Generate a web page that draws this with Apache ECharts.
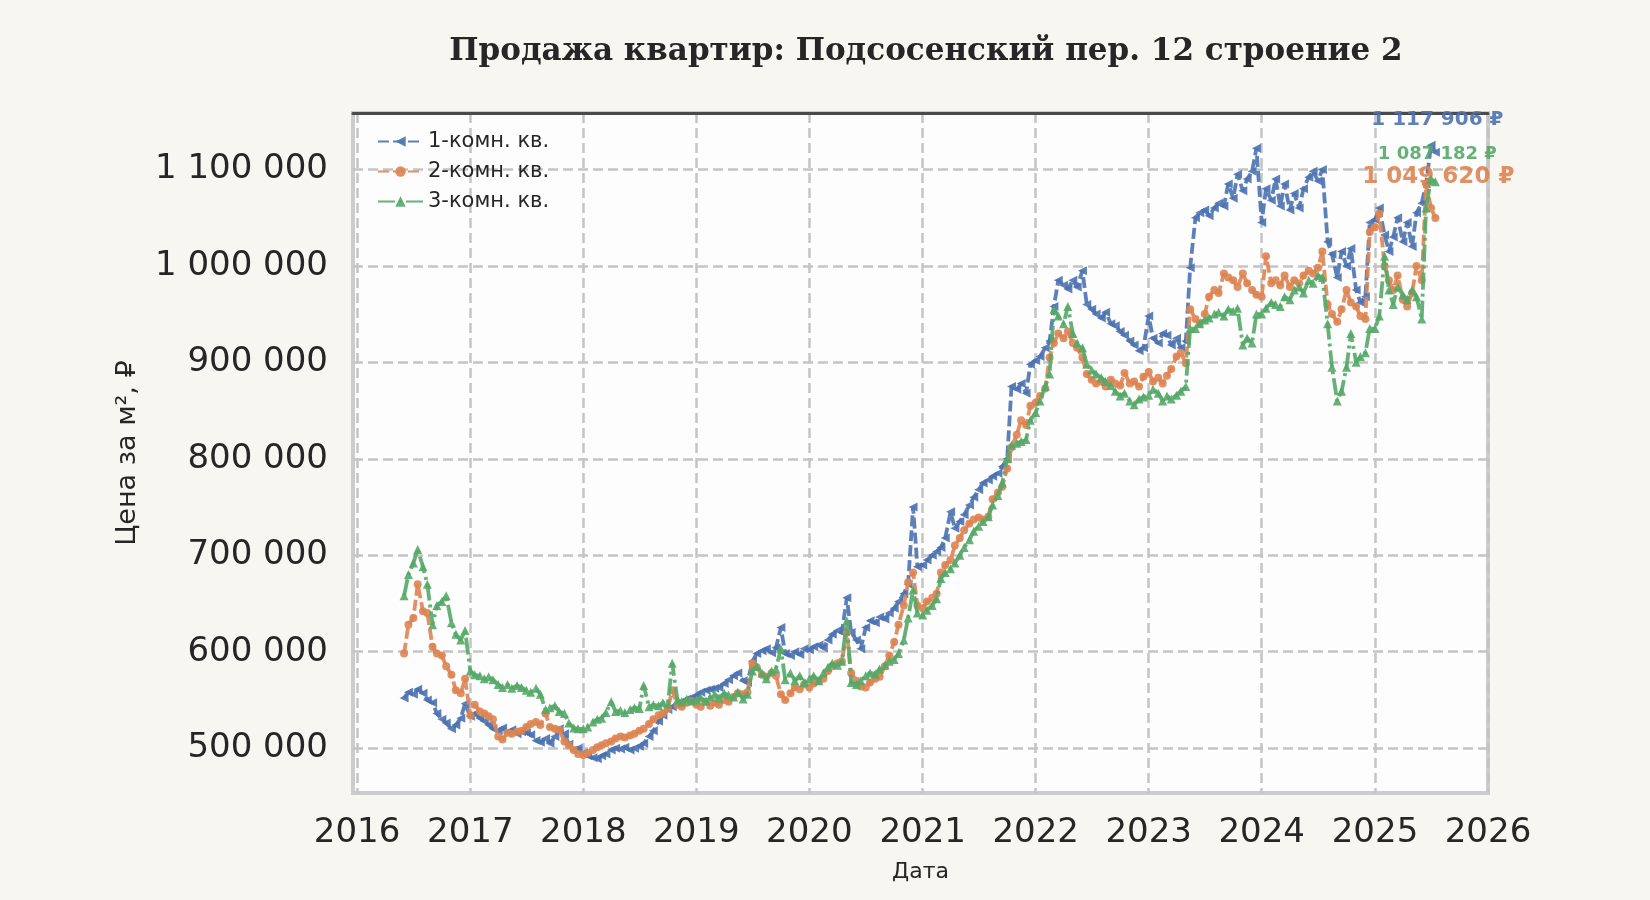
<!DOCTYPE html>
<html>
<head>
<meta charset="utf-8">
<script src="https://cdn.jsdelivr.net/npm/echarts@6/dist/echarts.min.js"></script>
<style>
html,body{margin:0;padding:0;background:#f7f6f1;}
#c{width:1650px;height:900px;}
</style>
</head>
<body>
<div id="c"></div>
<script>
// ---- DATA (price per m², thousands of ₽; semi-monthly from 2016-06-01 to 2025-07-15) ----
const seriesNames = ['1-комн. кв.', '2-комн. кв.', '3-комн. кв.'];
const yearTicks = [2016, 2017, 2018, 2019, 2020, 2021, 2022, 2023, 2024, 2025, 2026];
const priceTicks = [500000, 600000, 700000, 800000, 900000, 1000000, 1100000];

const oneRoomK = [
  // 2016 Jun-Dec
  552,558,556,561,557,550,547,536,530,526,520,524,531,546,
  // 2017
  533,536,531,528,524,520,518,521,516,519,515,517,516,514,508,506,510,505,512,520,515,504,498,500,
  // 2018
  495,492,490,489,492,494,498,500,499,501,498,500,502,505,512,518,528,534,540,543,546,548,551,552,
  // 2019
  555,558,560,561,562,563,567,571,575,578,570,568,590,598,601,603,599,604,625,598,596,600,597,603,
  // 2020
  602,605,607,604,612,618,622,620,656,620,612,603,625,632,630,636,634,640,645,652,660,670,750,688,
  // 2021
  690,695,700,704,708,718,745,728,735,742,752,760,768,775,778,782,785,792,800,875,872,878,868,898,
  // 2022
  902,906,915,922,958,985,980,976,985,978,995,960,955,950,946,952,940,938,932,928,922,918,912,915,
  // 2023
  948,925,920,930,928,918,925,915,922,998,1050,1055,1058,1052,1060,1065,1062,1085,1070,1095,1078,1090,1098,1122,
  // 2024
  1045,1080,1068,1090,1062,1085,1058,1075,1060,1080,1092,1098,1088,1100,1025,1012,988,1015,1000,1018,975,962,968,1045,
  // 2025 Jan-Jul
  1048,1060,1032,1015,1030,1050,1025,1045,1020,1055,1065,1085,1125,1117.906
];

const twoRoomK = [
  // 2016
  598,628,635,670,642,640,605,598,596,585,576,560,557,572,
  // 2017
  534,545,538,536,533,530,512,509,516,515,517,518,522,525,527,524,536,522,520,519,507,503,498,494,
  // 2018
  493,495,498,501,503,505,507,510,512,511,513,515,518,520,525,530,534,536,541,560,545,543,547,549,
  // 2019
  545,543,548,544,547,545,550,548,553,557,556,558,588,584,576,574,578,575,556,550,557,563,561,566,
  // 2020
  563,567,570,572,580,585,588,590,620,578,570,564,563,568,572,574,585,596,610,628,648,672,682,648,
  // 2021
  645,652,656,660,682,690,695,710,718,726,733,737,739,737,740,758,765,771,790,812,825,840,835,855,
  // 2022
  858,865,873,905,920,930,925,932,920,915,905,888,882,878,880,875,882,878,876,889,878,880,875,885,
  // 2023
  890,880,884,878,886,893,906,910,899,955,945,940,950,968,975,972,992,988,985,978,992,982,975,970,
  // 2024
  968,1010,982,985,980,990,978,985,982,990,995,992,998,1015,960,950,942,955,975,962,958,948,945,1035,
  // 2025
  1040,1054,1000,985,975,990,965,958,972,1000,985,1085,1060,1049.62
];

const threeRoomK = [
  // 2016
  658,680,692,706,688,670,628,648,652,658,630,618,612,622,
  // 2017
  580,576,575,572,574,571,566,563,566,562,565,563,560,558,562,556,540,542,544,538,536,526,521,520,
  // 2018
  520,522,527,530,531,537,548,538,539,537,540,542,541,565,543,545,544,547,546,588,550,548,551,549,
  // 2019
  550,552,549,553,556,552,557,555,553,558,551,556,580,585,578,572,580,582,603,571,578,570,575,568,
  // 2020
  572,575,570,578,584,588,586,590,632,568,566,570,575,578,577,582,586,590,592,598,612,635,664,640,
  // 2021
  638,643,648,655,676,682,686,692,700,708,716,725,730,735,740,752,762,775,800,814,816,818,820,840,
  // 2022
  848,860,875,888,955,948,940,958,930,920,915,898,892,888,884,880,876,870,865,868,860,856,862,864,
  // 2023
  866,872,868,860,865,862,866,870,875,935,935,940,944,946,950,952,948,955,953,956,918,925,920,950,
  // 2024
  950,956,962,960,958,968,965,975,978,972,985,982,990,988,940,895,860,870,895,930,900,906,910,935,
  // 2025
  935,948,1010,975,960,978,970,965,975,968,945,1060,1090,1087.182
];

// semi-monthly dates (1st and 15th) starting June 2016, as UTC timestamps
const dates = [];
for (let y = 2016, m = 5; dates.length < oneRoomK.length; ) {
  dates.push(Date.UTC(y, m, 1));
  if (dates.length < oneRoomK.length) dates.push(Date.UTC(y, m, 15));
  m++; if (m > 11) { m = 0; y++; }
}

// ---- CHART ----
const colors = ['#4c72b0', '#dd8452', '#55a868'];
const fmt = v => String(Math.round(v)).replace(/\B(?=(\d{3})+(?!\d))/g, ' ');
const yearTs = yearTicks.map(y => Date.UTC(y, 0, 1));
const xMin = Date.UTC(2015, 11, 19);
const xMax = Date.UTC(2026, 0, 1);

const endLabel = [
  { fontSize: 20, offset: [2, -32] },
  { fontSize: 23, offset: [3, -41] },
  { fontSize: 18, offset: [2, -27] }
];

function build(valsK, idx) {
  return valsK.map((v, i) => {
    const item = { value: [dates[i], v * 1000] };
    if (i === valsK.length - 1) {
      item.label = {
        show: true, position: 'inside', formatter: p => fmt(p.value[1]) + ' ₽',
        color: colors[idx], fontWeight: 'bold', fontFamily: 'DejaVu Sans',
        fontSize: endLabel[idx].fontSize, offset: endLabel[idx].offset
      };
    }
    return item;
  });
}

const dashes = [[11, 4], [11, 4], [17, 4, 3, 4]];
const symbols = ['triangle', 'circle', 'triangle'];
const symRot = [90, 0, 0];
const symSize = [9, 8, 9];
const allK = [oneRoomK, twoRoomK, threeRoomK];

const series = allK.map((vals, i) => ({
  name: seriesNames[i],
  type: 'line',
  data: build(vals, i),
  symbol: symbols[i],
  symbolRotate: symRot[i],
  symbolSize: symSize[i],
  showAllSymbol: true,
  color: colors[i],
  itemStyle: { color: colors[i], opacity: 0.9 },
  lineStyle: { color: colors[i], width: 3.8, type: dashes[i], opacity: 0.9 },
  emphasis: { disabled: true },
  animation: false,
  z: 3 + i
}));

const chart = echarts.init(document.getElementById('c'), null, { renderer: 'canvas' });
chart.setOption({
  backgroundColor: '#f7f6f1',
  animation: false,
  textStyle: { fontFamily: 'DejaVu Sans', color: '#262626' },
  title: {
    text: 'Продажа квартир: Подсосенский пер. 12 строение 2',
    left: 921, top: 31, textAlign: 'center',
    textStyle: { fontFamily: 'DejaVu Serif', fontWeight: 'bold', fontSize: 31, color: '#262626' }
  },
  legend: {
    orient: 'vertical', left: 372, top: 126, itemGap: 9,
    itemWidth: 45, itemHeight: 13,
    textStyle: { fontSize: 21, color: '#262626', fontFamily: 'DejaVu Sans' },
    data: seriesNames
  },
  grid: {
    left: 353, right: 162, top: 113, bottom: 107,
    show: true, backgroundColor: '#fdfdfd', borderColor: '#cccccc', borderWidth: 4
  },
  xAxis: [{
    type: 'value', min: xMin, max: xMax,
    axisLine: { show: false },
    axisTick: { show: false, customValues: yearTs },
    axisLabel: {
      customValues: yearTs, fontSize: 34, color: '#262626', margin: 23,
      formatter: v => String(new Date(v).getUTCFullYear())
    },
    splitLine: { show: true, lineStyle: { color: '#c4c4c4', width: 2.5, type: [10, 5] } },
    name: 'Дата', nameLocation: 'middle', nameGap: 68,
    nameTextStyle: { fontSize: 22, color: '#262626' }
  }, {
    type: 'value', position: 'top', min: xMin, max: xMax,
    axisLine: { show: true, onZero: false, lineStyle: { color: '#4a4a4a', width: 3 } },
    axisTick: { show: false }, axisLabel: { show: false }, splitLine: { show: false }
  }],
  yAxis: {
    type: 'value', min: 453500, max: 1158500,
    axisLine: { show: false },
    axisTick: { show: false, customValues: priceTicks },
    axisLabel: { customValues: priceTicks, fontSize: 34, color: '#262626', margin: 25, formatter: fmt },
    splitLine: { show: true, lineStyle: { color: '#c4c4c4', width: 2.5, type: [10, 5] } },
    name: 'Цена за м², ₽', nameLocation: 'middle', nameGap: 212, nameRotate: 90,
    nameTextStyle: { fontSize: 27, color: '#262626' }
  },
  series: series
});
</script>
</body>
</html>
